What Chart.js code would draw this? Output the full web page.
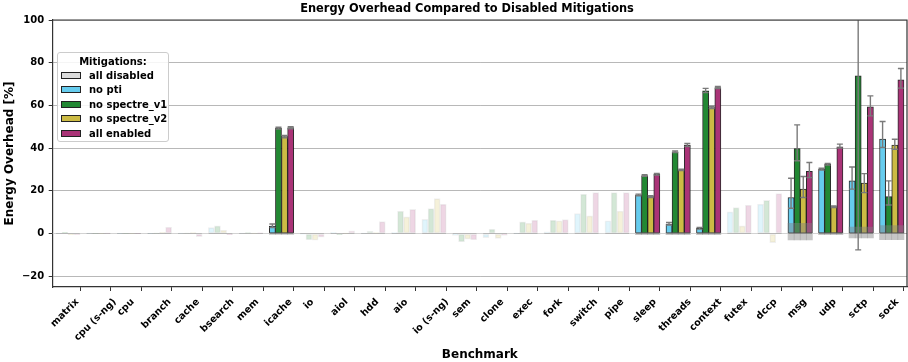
<!DOCTYPE html>
<html>
<head>
<meta charset="utf-8">
<script src="https://cdn.jsdelivr.net/npm/chart.js@4.4.1/dist/chart.umd.min.js"></script>
<style>
html,body{margin:0;padding:0;background:#ffffff;}
#wrap{position:relative;width:908px;height:362px;}
canvas{display:block;}
#legend{position:absolute;left:57px;top:52px;width:112px;height:90px;box-sizing:border-box;border:1px solid #cccccc;border-radius:3px;background:rgba(255,255,255,0.85);font-family:"DejaVu Sans",sans-serif;font-weight:bold;font-size:10px;color:#000;}
#legend .lt{position:absolute;left:0;width:110px;text-align:center;top:2px;line-height:13px;}
#legend .sw{position:absolute;left:3px;width:20px;height:7px;box-sizing:border-box;border:1px solid #222;}
#legend .tx{position:absolute;left:31px;line-height:13px;white-space:nowrap;}
</style>
</head>
<body>
<div id="wrap">
<canvas id="c" width="908" height="362"></canvas>
<div id="legend"><div class="lt">Mitigations:</div></div>
</div>
<script>
// ---------------- data ----------------
const categories = ['matrix','cpu (s-ng)','cpu','branch','cache','bsearch','mem','icache','io','aiol','hdd','aio','io (s-ng)','sem','clone','exec','fork','switch','pipe','sleep','threads','context','futex','dccp','msg','udp','sctp','sock'];
const yTicks = [-20, 0, 20, 40, 60, 80, 100];

const allDisabled = [0,0,0,0,0,0,0,0,0,0,0,0,0,0,0,0,0,0,0,0,0,0,0,0,0,0,0,0];
const noPti       = [0.3,0.2,0.1,0.1,0.2,2.8,0.3,3.5,-0.3,0.5,0.3,0.5,6.7,-0.8,-1.9,0.2,0.8,9.4,6.0,18.1,4.4,2.5,10.2,13.8,16.9,30.2,24.7,44.2];
const noSpectreV1 = [0.7,0.1,0.1,0.2,0.3,3.6,0.5,49.4,-3.0,-0.5,1.2,10.6,11.7,-3.9,2.1,5.5,6.3,18.5,19.2,27.2,38.3,66.8,12.2,15.6,39.8,32.5,73.9,17.3];
const noSpectreV2 = [-0.5,0.1,0.1,0.6,0.5,1.6,0.2,45.4,-3.1,0.2,0.5,7.8,16.4,-2.6,-2.2,4.9,6.0,8.3,10.6,17.3,29.8,59.0,3.6,-4.2,20.8,12.6,23.6,41.5];
const allEnabled  = [-0.6,0.2,0.1,3.1,-1.4,-0.5,0.4,49.6,-1.7,1.3,5.6,11.4,13.8,-3.0,-0.8,6.3,6.6,19.2,19.2,27.8,41.4,68.4,13.4,18.7,29.2,40.6,59.3,72.0];

// benchmarks with a significant difference (drawn opaque, with error bars)
const significant = [7,19,20,21,24,25,26,27];
// error ranges, one entry per significant benchmark
const noPtiErrLow        = [2.8,17.7,4.0,2.1,11.9,29.8,20.8,40.3];
const noPtiErrHigh       = [4.5,18.5,5.2,2.9,25.9,30.6,31.2,52.5];
const noSpectreV1ErrLow  = [49.0,26.8,37.9,66.0,34.1,32.1,-7.6,13.4];
const noSpectreV1ErrHigh = [49.8,27.6,38.7,68.0,50.9,32.9,155.0,24.7];
const noSpectreV2ErrLow  = [44.8,16.9,29.5,58.5,16.9,12.2,19.2,39.5];
const noSpectreV2ErrHigh = [46.0,17.7,30.1,59.6,26.7,13.0,28.1,44.2];
const allEnabledErrLow   = [49.1,27.4,40.8,67.9,26.2,40.1,55.1,68.1];
const allEnabledErrHigh  = [50.1,28.2,42.2,68.9,33.3,41.9,64.5,77.3];
// spread of the "all disabled" baseline
const baselineLow  = [-0.4,-0.5,-0.5,-0.5,-3.0,-0.5,-2.0,-2.8];
const baselineHigh = [0.4,0.5,0.5,0.5,4.8,0.5,3.0,3.7];

const chartTitle = 'Energy Overhead Compared to Disabled Mitigations';

// ---------------- styling ----------------
const FONT = '"DejaVu Sans", sans-serif';
const sigSet = new Set(significant);
const series = [
  {label:'no pti',        data:noPti,       rgb:[102,204,238], lo:noPtiErrLow,       hi:noPtiErrHigh,       stack:'b'},
  {label:'no spectre_v1', data:noSpectreV1, rgb:[34,136,51],   lo:noSpectreV1ErrLow, hi:noSpectreV1ErrHigh, stack:'c'},
  {label:'no spectre_v2', data:noSpectreV2, rgb:[204,187,68],  lo:noSpectreV2ErrLow, hi:noSpectreV2ErrHigh, stack:'d'},
  {label:'all enabled',   data:allEnabled,  rgb:[170,51,119],  lo:allEnabledErrLow,  hi:allEnabledErrHigh,  stack:'e'}
];
const rgba = (c,a) => `rgba(${c[0]},${c[1]},${c[2]},${a})`;

const datasets = [{
  label:'all disabled', data: allDisabled.map((v,i)=>({x:i,y:v})),
  backgroundColor:'#dddddd', borderWidth:0, stack:'a'
}];
series.forEach(s => {
  datasets.push({
    label:'band', isBand:true,
    data: significant.map((ci,k)=>({x:ci, y:[baselineLow[k], baselineHigh[k]]})),
    backgroundColor:'rgba(128,128,128,0.45)', borderWidth:0, stack:s.stack
  });
  datasets.push({
    label:s.label, series:s,
    data: s.data.map((v,i)=>({x:i,y:v})),
    backgroundColor: ctx => sigSet.has(ctx.dataIndex) ? rgba(s.rgb,1) : rgba(s.rgb,0.2),
    borderColor: ctx => sigSet.has(ctx.dataIndex) ? 'rgba(20,20,20,0.9)' : 'rgba(0,0,0,0.06)',
    borderWidth: 1, borderSkipped:false, stack:s.stack
  });
});

// legend (HTML, real text)
const legend = document.getElementById('legend');
const legendItems = [{label:'all disabled', color:'#dddddd'}].concat(series.map(s=>({label:s.label, color:rgba(s.rgb,1)})));
legendItems.forEach((it,k) => {
  const cy = 22 + 14.6*k;
  const sw = document.createElement('div'); sw.className='sw';
  sw.style.top = (cy-3.5)+'px'; sw.style.background = it.color; legend.appendChild(sw);
  const tx = document.createElement('div'); tx.className='tx';
  tx.style.top = (cy-6.5)+'px'; tx.textContent = it.label; legend.appendChild(tx);
});

// ---------------- plugins ----------------
const frame = {
  id:'frame',
  afterDraw(chart){
    const {ctx, chartArea:a} = chart;
    ctx.save(); ctx.strokeStyle='#333'; ctx.lineWidth=1.2;
    ctx.beginPath(); ctx.moveTo(a.left,a.top); ctx.lineTo(a.right,a.top); ctx.lineTo(a.right,a.bottom); ctx.stroke();
    ctx.restore();
    // title
    ctx.save();
    ctx.font = `bold 11.4px ${FONT}`; ctx.fillStyle='#000';
    ctx.textAlign='center'; ctx.textBaseline='middle';
    ctx.fillText(chartTitle, 467, 8.8);
    ctx.restore();
  }
};
const errorBars = {
  id:'errorBars',
  afterDatasetsDraw(chart){
    const {ctx, chartArea:a} = chart; const y = chart.scales.y;
    ctx.save();
    ctx.beginPath(); ctx.rect(a.left, a.top, a.right-a.left, a.bottom-a.top); ctx.clip();
    ctx.strokeStyle='#7a7a7a'; ctx.lineWidth=1.4;
    chart.data.datasets.forEach((ds,di) => {
      if (!ds.series) return;
      const meta = chart.getDatasetMeta(di);
      significant.forEach((ci,k) => {
        const el = meta.data[ci]; if (!el) return;
        const x = el.x, y1 = y.getPixelForValue(ds.series.lo[k]), y2 = y.getPixelForValue(ds.series.hi[k]);
        ctx.beginPath();
        ctx.moveTo(x,y1); ctx.lineTo(x,y2);
        ctx.moveTo(x-3,y1); ctx.lineTo(x+3,y1);
        ctx.moveTo(x-3,y2); ctx.lineTo(x+3,y2);
        ctx.stroke();
      });
    });
    ctx.restore();
  }
};
const xLabels = {
  id:'xLabels',
  afterDraw(chart){
    const {ctx, chartArea:a} = chart; const xs = chart.scales.x;
    const size = 9.6;
    ctx.save();
    ctx.font = `bold ${size}px ${FONT}`; ctx.fillStyle='#000';
    ctx.textAlign='center'; ctx.textBaseline='middle';
    const h = size*1.164;
    categories.forEach((lab,i) => {
      const tx = xs.getPixelForValue(i);
      const w = ctx.measureText(lab).width;
      const box = (w+h)*Math.SQRT1_2;
      const top = a.bottom + 9.5;
      ctx.save();
      ctx.translate(tx, top + box/2);
      ctx.rotate(-Math.PI/4);
      ctx.fillText(lab, 0, 0);
      ctx.restore();
    });
    ctx.restore();
  }
};

new Chart(document.getElementById('c'), {
  type:'bar',
  data:{datasets},
  options:{
    responsive:false, animation:false,
    layout:{padding:{left:0,right:1,top:20,bottom:0}},
    datasets:{bar:{categoryPercentage:1, barPercentage:1, grouped:true}},
    plugins:{
      legend:{display:false}, tooltip:{enabled:false}, title:{display:false}
    },
    scales:{
      x:{
        type:'linear', min:-0.4, max:27.6, offset:false, stacked:true,
        afterBuildTicks(s){ s.ticks = categories.map((_,i)=>({value:i})); },
        afterFit(s){ s.height = 75; },
        ticks:{display:false},
        grid:{drawOnChartArea:false, drawTicks:true, tickLength:4, tickColor:'#333', tickWidth:1},
        border:{display:true, color:'#333', width:1.2},
        title:{display:true, text:'Benchmark', color:'#000', font:{family:FONT, weight:'bold', size:12, lineHeight:1.2}, padding:{top:2.5,bottom:0}}
      },
      y:{
        min:-25, max:100, stacked:false,
        afterBuildTicks(s){ s.ticks = yTicks.map(v=>({value:v})); },
        afterFit(s){ s.width = 52.7; },
        ticks:{color:'#000', padding:4.5, font:{family:FONT, weight:'bold', size:10},
          callback:v => String(v).replace('-', '\u2212')},
        grid:{color:'#b8b8b8', lineWidth:1, tickLength:4, tickColor:'#333', tickWidth:1},
        border:{display:true, color:'#333', width:1.2},
        title:{display:true, text:'Energy Overhead [%]', color:'#000', font:{family:FONT, weight:'bold', size:12, lineHeight:1.2}, padding:{top:3,bottom:0}}
      }
    }
  },
  plugins:[frame, errorBars, xLabels]
});
</script>
</body>
</html>
